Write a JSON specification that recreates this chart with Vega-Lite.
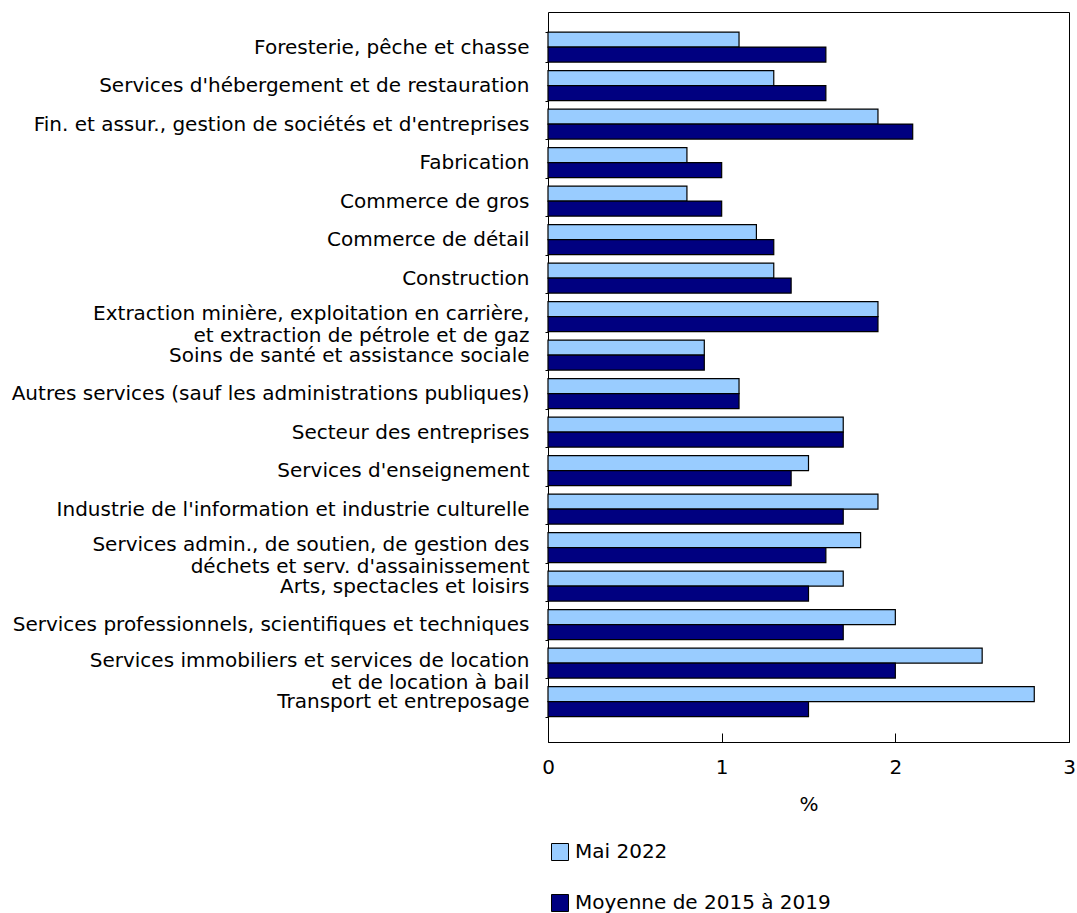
{
  "$schema": "https://vega.github.io/schema/vega-lite/v6.json",
  "autosize": "none",
  "padding": {"left": 548, "top": 12, "right": 8, "bottom": 171},
  "width": 521,
  "height": 730,
  "background": "white",
  "config": {
    "font": "DejaVu Sans",
    "view": {"stroke": "black", "strokeWidth": 1},
    "axis": {"labelFont": "DejaVu Sans", "titleFont": "DejaVu Sans", "labelColor": "black", "titleColor": "black", "domainColor": "black", "tickColor": "black"},
    "legend": {"labelFont": "DejaVu Sans"}
  },
  "data": {
    "values": [
      {"secteur": "Foresterie, pêche et chasse", "serie": "Mai 2022", "valeur": 1.1},
      {"secteur": "Foresterie, pêche et chasse", "serie": "Moyenne de 2015 à 2019", "valeur": 1.6},
      {"secteur": "Services d'hébergement et de restauration", "serie": "Mai 2022", "valeur": 1.3},
      {"secteur": "Services d'hébergement et de restauration", "serie": "Moyenne de 2015 à 2019", "valeur": 1.6},
      {"secteur": "Fin. et assur., gestion de sociétés et d'entreprises", "serie": "Mai 2022", "valeur": 1.9},
      {"secteur": "Fin. et assur., gestion de sociétés et d'entreprises", "serie": "Moyenne de 2015 à 2019", "valeur": 2.1},
      {"secteur": "Fabrication", "serie": "Mai 2022", "valeur": 0.8},
      {"secteur": "Fabrication", "serie": "Moyenne de 2015 à 2019", "valeur": 1.0},
      {"secteur": "Commerce de gros", "serie": "Mai 2022", "valeur": 0.8},
      {"secteur": "Commerce de gros", "serie": "Moyenne de 2015 à 2019", "valeur": 1.0},
      {"secteur": "Commerce de détail", "serie": "Mai 2022", "valeur": 1.2},
      {"secteur": "Commerce de détail", "serie": "Moyenne de 2015 à 2019", "valeur": 1.3},
      {"secteur": "Construction", "serie": "Mai 2022", "valeur": 1.3},
      {"secteur": "Construction", "serie": "Moyenne de 2015 à 2019", "valeur": 1.4},
      {"secteur": "Extraction minière, exploitation en carrière,|et extraction de pétrole et de gaz", "serie": "Mai 2022", "valeur": 1.9},
      {"secteur": "Extraction minière, exploitation en carrière,|et extraction de pétrole et de gaz", "serie": "Moyenne de 2015 à 2019", "valeur": 1.9},
      {"secteur": "Soins de santé et assistance sociale", "serie": "Mai 2022", "valeur": 0.9},
      {"secteur": "Soins de santé et assistance sociale", "serie": "Moyenne de 2015 à 2019", "valeur": 0.9},
      {"secteur": "Autres services (sauf les administrations publiques)", "serie": "Mai 2022", "valeur": 1.1},
      {"secteur": "Autres services (sauf les administrations publiques)", "serie": "Moyenne de 2015 à 2019", "valeur": 1.1},
      {"secteur": "Secteur des entreprises", "serie": "Mai 2022", "valeur": 1.7},
      {"secteur": "Secteur des entreprises", "serie": "Moyenne de 2015 à 2019", "valeur": 1.7},
      {"secteur": "Services d'enseignement", "serie": "Mai 2022", "valeur": 1.5},
      {"secteur": "Services d'enseignement", "serie": "Moyenne de 2015 à 2019", "valeur": 1.4},
      {"secteur": "Industrie de l'information et industrie culturelle", "serie": "Mai 2022", "valeur": 1.9},
      {"secteur": "Industrie de l'information et industrie culturelle", "serie": "Moyenne de 2015 à 2019", "valeur": 1.7},
      {"secteur": "Services admin., de soutien, de gestion des|déchets et serv. d'assainissement", "serie": "Mai 2022", "valeur": 1.8},
      {"secteur": "Services admin., de soutien, de gestion des|déchets et serv. d'assainissement", "serie": "Moyenne de 2015 à 2019", "valeur": 1.6},
      {"secteur": "Arts, spectacles et loisirs", "serie": "Mai 2022", "valeur": 1.7},
      {"secteur": "Arts, spectacles et loisirs", "serie": "Moyenne de 2015 à 2019", "valeur": 1.5},
      {"secteur": "Services professionnels, scientifiques et techniques", "serie": "Mai 2022", "valeur": 2.0},
      {"secteur": "Services professionnels, scientifiques et techniques", "serie": "Moyenne de 2015 à 2019", "valeur": 1.7},
      {"secteur": "Services immobiliers et services de location|et de location à bail", "serie": "Mai 2022", "valeur": 2.5},
      {"secteur": "Services immobiliers et services de location|et de location à bail", "serie": "Moyenne de 2015 à 2019", "valeur": 2.0},
      {"secteur": "Transport et entreposage", "serie": "Mai 2022", "valeur": 2.8},
      {"secteur": "Transport et entreposage", "serie": "Moyenne de 2015 à 2019", "valeur": 1.5}
    ]
  },
  "mark": {"type": "bar", "stroke": "black", "strokeWidth": 1.2},
  "encoding": {
    "y": {
      "field": "secteur",
      "type": "nominal",
      "sort": null,
      "scale": {"range": [15.8, 708.8], "paddingInner": 0.22, "paddingOuter": 0.11},
      "axis": {
        "title": null,
        "labelExpr": "isValid(datum.value) ? split(datum.value, '|') : ''",
        "labelFontSize": 20,
        "labelLineHeight": 22,
        "labelOffset": {"condition": {"test": "isValid(datum.value) && indexof(datum.value, '|') >= 0", "value": -3}, "value": 0},
        "labelPadding": 16,
        "labelLimit": 700,
        "tickBand": "extent",
        "tickSize": 3,
        "domain": true
      }
    },
    "yOffset": {"field": "serie", "type": "nominal", "sort": ["Mai 2022", "Moyenne de 2015 à 2019"], "scale": {"paddingInner": 0}},
    "x": {
      "field": "valeur",
      "type": "quantitative",
      "scale": {"domain": [0, 3], "nice": false},
      "axis": {
        "title": "%",
        "values": [0, 1, 2, 3],
        "grid": false,
        "tickSize": -9,
        "labelFlush": false,
        "labelPadding": 24,
        "labelFontSize": 20,
        "titleFontSize": 20,
        "titleFontWeight": "normal",
        "titlePadding": 17
      }
    },
    "color": {
      "field": "serie",
      "type": "nominal",
      "sort": ["Mai 2022", "Moyenne de 2015 à 2019"],
      "scale": {"domain": ["Mai 2022", "Moyenne de 2015 à 2019"], "range": ["#99CCFF", "#000080"]},
      "legend": {
        "title": null,
        "orient": "none",
        "legendX": 2,
        "legendY": 830,
        "direction": "vertical",
        "symbolType": "square",
        "symbolSize": 289,
        "symbolStrokeColor": "black",
        "symbolStrokeWidth": 1,
        "labelFontSize": 20,
        "labelLimit": 400,
        "labelColor": "black",
        "labelOffset": 5,
        "rowPadding": 29
      }
    }
  }
}
